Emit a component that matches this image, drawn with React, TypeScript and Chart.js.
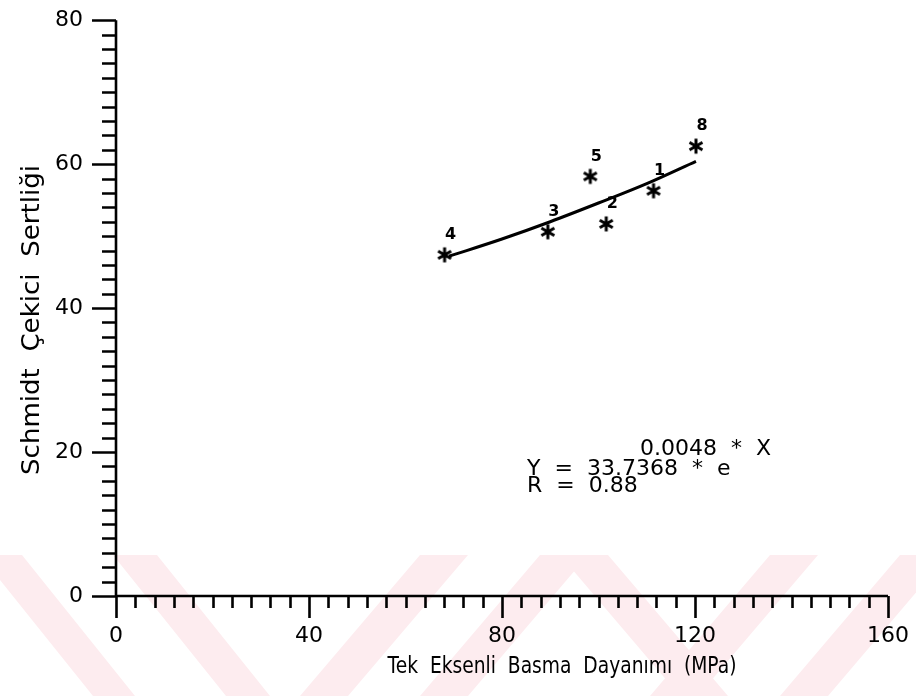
import React, { useEffect, useRef } from "react";
import { Chart, registerables } from "chart.js";

Chart.register(...registerables);

// ---- data ----
const sampleLabels = ["1", "2", "3", "4", "5", "8"];
const strengthMPa = [111.4, 101.6, 89.5, 68.1, 98.3, 120.2];
const reboundHardness = [56.3, 51.7, 50.6, 47.4, 58.3, 62.5];
const fitX = [69, 80, 90, 100, 110, 120.2];
const fitY = [47.2, 49.6, 52.0, 54.6, 57.3, 60.4];
const xMin = 0;
const xMax = 160;
const yMin = 0;
const yMax = 80;
const xMajorStep = 40;
const yMajorStep = 20;
const xMinorStep = 4;
const yMinorStep = 2;
const xTitle = "Tek  Eksenli  Basma  Dayanımı  (MPa)";
const yTitle = "Schmidt  Çekici  Sertliği";
const equationMain = "Y  =  33.7368  *  e";
const equationExp = "0.0048  *  X";
const equationR = "R  =  0.88";
// annotation anchor positions in data units
const equationAnchor = [85.2, 17.6];
const exponentAnchor = [108.6, 20.4];
const rAnchor = [85.2, 15.2];

const FONT = "'DejaVu Sans', sans-serif";

// faint pink watermark stripes (decoration): [xTop, xBottom, width]
const watermark = [
  [-20, 93, 42],
  [113, 226, 44],
  [420, 300, 48],
  [540, 420, 48],
  [560, 680, 48],
  [770, 650, 48],
  [900, 780, 48],
];

function makeAsterisk(): HTMLCanvasElement {
  const c = document.createElement("canvas");
  const s = 20;
  c.width = s;
  c.height = s;
  const g = c.getContext("2d")!;
  g.strokeStyle = "#000";
  g.lineWidth = 3;
  g.lineCap = "butt";
  const r = 7.5;
  const cx = s / 2;
  const cy = s / 2;
  g.beginPath();
  for (const a of [90, 30, 150]) {
    const rad = (a * Math.PI) / 180;
    g.moveTo(cx - r * Math.cos(rad), cy - r * Math.sin(rad));
    g.lineTo(cx + r * Math.cos(rad), cy + r * Math.sin(rad));
  }
  g.stroke();
  return c;
}

function fitText(ctx: CanvasRenderingContext2D, text: string, cx: number, cy: number, width: number) {
  const w = ctx.measureText(text).width;
  ctx.save();
  ctx.translate(cx, cy);
  ctx.scale(width / w, 1);
  ctx.textAlign = "center";
  ctx.fillText(text, 0, 0);
  ctx.restore();
}

const watermarkPlugin = {
  id: "watermark",
  beforeDraw(chart: any) {
    const { ctx } = chart;
    const top = 555;
    const bottom = chart.height;
    ctx.save();
    ctx.fillStyle = "rgb(253,236,239)";
    for (const [xt, xb, w] of watermark) {
      ctx.beginPath();
      ctx.moveTo(xt, top);
      ctx.lineTo(xt + w, top);
      ctx.lineTo(xb + w, bottom);
      ctx.lineTo(xb, bottom);
      ctx.closePath();
      ctx.fill();
    }
    ctx.restore();
  },
};

const axesPlugin = {
  id: "axesDraw",
  beforeDatasetsDraw(chart: any) {
    const { ctx } = chart;
    const x = chart.scales.x;
    const y = chart.scales.y;
    const x0 = x.getPixelForValue(xMin);
    const x1 = x.getPixelForValue(xMax);
    const y0 = y.getPixelForValue(yMin);
    const y1 = y.getPixelForValue(yMax);
    ctx.save();
    ctx.strokeStyle = "#000";
    ctx.lineWidth = 2.6;
    ctx.beginPath();
    ctx.moveTo(x0, y1);
    ctx.lineTo(x0, y0);
    ctx.moveTo(x0, y0);
    ctx.lineTo(x1, y0);
    for (let v = yMin; v <= yMax + 1e-9; v += yMinorStep) {
      const py = Math.round(y.getPixelForValue(v)) + 0.5;
      const len = v % yMajorStep === 0 ? 24 : 14;
      ctx.moveTo(x0, py);
      ctx.lineTo(x0 - len, py);
    }
    for (let v = xMin; v <= xMax + 1e-9; v += xMinorStep) {
      const px = Math.round(x.getPixelForValue(v)) + 0.5;
      const len = v % xMajorStep === 0 ? 22 : 12;
      ctx.moveTo(px, y0);
      ctx.lineTo(px, y0 + len);
    }
    ctx.stroke();
    ctx.restore();
  },
};

const textPlugin = {
  id: "texts",
  afterDatasetsDraw(chart: any) {
    const { ctx } = chart;
    const x = chart.scales.x;
    const y = chart.scales.y;
    ctx.save();
    ctx.fillStyle = "#000";
    // point labels
    const meta = chart.getDatasetMeta(1);
    ctx.font = `bold 16px ${FONT}`;
    ctx.textAlign = "center";
    ctx.textBaseline = "middle";
    meta.data.forEach((pt: any, i: number) => {
      ctx.fillText(sampleLabels[i], pt.x + 6, pt.y - 20);
    });
    // equation
    ctx.textAlign = "left";
    ctx.font = `22px ${FONT}`;
    ctx.fillText(equationMain, x.getPixelForValue(equationAnchor[0]), y.getPixelForValue(equationAnchor[1]));
    ctx.fillText(equationExp, x.getPixelForValue(exponentAnchor[0]), y.getPixelForValue(exponentAnchor[1]));
    ctx.fillText(equationR, x.getPixelForValue(rAnchor[0]), y.getPixelForValue(rAnchor[1]));
    // axis titles
    ctx.font = `23px ${FONT}`;
    fitText(ctx, xTitle, 562, 667, 349);
    ctx.save();
    ctx.translate(32, 320);
    ctx.rotate(-Math.PI / 2);
    ctx.font = `25px ${FONT}`;
    fitText(ctx, yTitle, 0, 0, 310);
    ctx.restore();
    ctx.restore();
  },
};

export default function App() {
  const ref = useRef<HTMLCanvasElement | null>(null);
  useEffect(() => {
    if (!ref.current) return;
    const asterisk = makeAsterisk();
    const chart = new Chart(ref.current, {
      type: "scatter",
      data: {
        datasets: [
          {
            type: "line",
            data: fitX.map((v, i) => ({ x: v, y: fitY[i] })),
            borderColor: "#000",
            borderWidth: 3,
            pointRadius: 0,
            cubicInterpolationMode: "monotone",
            fill: false,
          } as any,
          {
            type: "scatter",
            data: strengthMPa.map((v, i) => ({ x: v, y: reboundHardness[i] })),
            pointStyle: asterisk,
            pointRadius: 10,
            borderColor: "#000",
            backgroundColor: "#000",
          } as any,
        ],
      },
      options: {
        animation: false,
        responsive: true,
        maintainAspectRatio: false,
        layout: { padding: { left: 0, top: 15, right: 28, bottom: 0 } },
        plugins: { legend: { display: false }, tooltip: { enabled: false } },
        scales: {
          x: {
            type: "linear",
            min: xMin,
            max: xMax,
            afterFit: (s: any) => {
              s.height = 100;
            },
            border: { display: false },
            grid: { display: true, drawOnChartArea: false, drawTicks: true, tickLength: 22, color: "rgba(0,0,0,0)" },
            ticks: {
              stepSize: xMajorStep,
              padding: 5,
              color: "#000",
              font: { family: FONT, size: 22 },
              maxRotation: 0,
            },
          },
          y: {
            type: "linear",
            min: yMin,
            max: yMax,
            afterFit: (s: any) => {
              s.width = 116;
            },
            border: { display: false },
            grid: { display: true, drawOnChartArea: false, drawTicks: true, tickLength: 26, color: "rgba(0,0,0,0)" },
            ticks: {
              stepSize: yMajorStep,
              padding: 7,
              color: "#000",
              font: { family: FONT, size: 22 },
            },
          },
        },
      } as any,
      plugins: [watermarkPlugin, axesPlugin, textPlugin],
    });
    return () => chart.destroy();
  }, []);
  return (
    <div style={{ position: "absolute", left: 0, top: 0, width: 916, height: 696, background: "#fff" }}>
      <canvas ref={ref} />
    </div>
  );
}
